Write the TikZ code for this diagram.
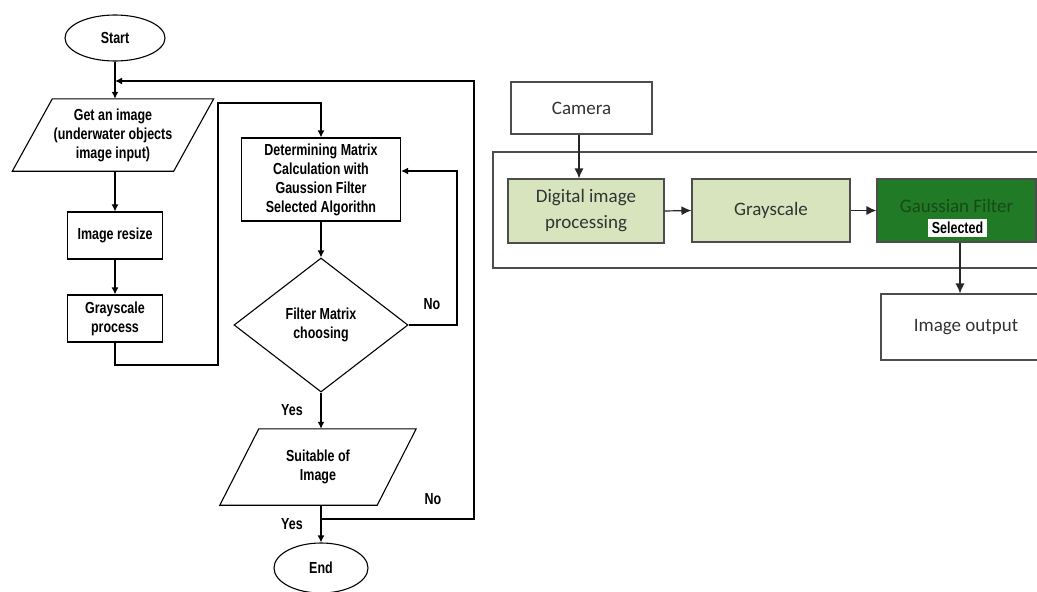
\documentclass[tikz,border=0pt]{standalone}
\usepackage{fontspec}
\setmainfont{Liberation Sans}
\newfontfamily\flowfont[FakeStretch=0.78]{Liberation Sans}
\newfontfamily\boxfont{Carlito}
\usetikzlibrary{shapes.geometric,arrows.meta}
\definecolor{lightolive}{HTML}{D7E4BD}
\definecolor{darkgreen}{HTML}{217A25}
\definecolor{gftext}{HTML}{174A17}
\definecolor{edgegray}{HTML}{4D4D4D}
\begin{document}
\begin{tikzpicture}[x=1pt,y=-1pt,
  fl/.style={font=\flowfont\bfseries\fontsize{16}{19}\selectfont, align=center, inner sep=0pt},
  flbox/.style={fl, draw=black, line width=1.1pt},
  flarr/.style={line width=2.2pt, -{Latex[length=7pt,width=7pt]}},
  lbl/.style={font=\flowfont\bfseries\fontsize{16}{19}\selectfont, inner sep=0pt},
  rb/.style={draw=edgegray, line width=1.1pt, font=\boxfont\fontsize{19}{26}\selectfont, text=black!80, align=center, inner sep=0pt},
  rarr/.style={line width=1.2pt, draw=black!85, -{Latex[length=10pt,width=9pt]}}
]
\clip (0,0) rectangle (1037,592);
\fill[white] (0,0) rectangle (1037,592);

% ---------- left flowchart ----------
\node[flbox, ellipse, minimum width=100pt, minimum height=46pt] (start) at (115,38) {Start};
\node[fl, minimum width=161pt, minimum height=72pt] (get) at (113,135) {Get an image\\(underwater objects\\image input)};
\draw[line width=1.1pt] ([xshift=20pt]get.north west) -- ([xshift=20pt]get.north east) -- ([xshift=-20pt]get.south east) -- ([xshift=-20pt]get.south west) -- cycle;
\node[flbox, minimum width=95pt, minimum height=47pt] (resize) at (115,235.5) {Image resize};
\node[flbox, minimum width=95pt, minimum height=47pt] (gray) at (115,318.5) {Grayscale\\process};
\node[flbox, minimum width=159pt, minimum height=83pt] (det) at (321,179.5) {Determining Matrix\\Calculation with\\Gaussion Filter\\Selected Algorithn};
\node[flbox, diamond, minimum width=174pt, minimum height=134pt] (dia) at (321,325) {Filter Matrix\\choosing};
\node[fl, minimum width=157pt, minimum height=76pt] (suit) at (318,467) {Suitable of\\Image};
\draw[line width=1.1pt] ([xshift=19.5pt]suit.north west) -- ([xshift=19.5pt]suit.north east) -- ([xshift=-19.5pt]suit.south east) -- ([xshift=-19.5pt]suit.south west) -- cycle;
\node[flbox, ellipse, minimum width=94pt, minimum height=50pt] (end) at (321,568) {End};

\coordinate (top) at (115,81);
\coordinate (junc) at (321,519);
\coordinate (nin) at (det.east |- 0,171);

\draw[flarr] (start.south) -- (get.north -| start.south);
\draw[flarr] (get.south -| resize.north) -- (resize.north);
\draw[flarr] (resize.south) -- (gray.north);
\draw[flarr] (gray.south) |- (218,365) -- (218,103) -| (det.north);
\draw[flarr] (det.south) -- (dia.north);
\draw[flarr] (dia.east) -| (457,171) -- (nin);
\draw[flarr] (dia.south) -- (dia.south |- suit.north);
\draw[flarr] (suit.south -| end.north) -- (end.north);
\draw[flarr] (junc) -- (474,519) -- (474,81) -- (top);

\node[lbl] (no1) at (432,304) {No};
\node[lbl] (yes1) at (292,410) {Yes};
\node[lbl] (no2) at (433,499) {No};
\node[lbl] (yes2) at (292,524) {Yes};

% ---------- right block diagram ----------
\node[rb, minimum width=141pt, minimum height=52pt] (camera) at (581.5,108) {Camera};
\draw[edgegray, line width=1.1pt] (493,152) rectangle (1060,268);
\node[rb, fill=lightolive, minimum width=156pt, minimum height=64pt] (dig) at (586,211) {Digital image\\processing};
\node[rb, fill=lightolive, minimum width=158pt, minimum height=63pt] (gs) at (771,210.5) {Grayscale};
\node[rb, fill=darkgreen, text=gftext, minimum width=159pt, minimum height=63pt, text depth=10pt] (gf) at (956.5,210.5) {Gaussian Filter};
\node[fill=white, font=\flowfont\bfseries\fontsize{16}{17}\selectfont, inner sep=1.5pt, minimum width=59pt, minimum height=18pt] (sel) at (957.5,228) {Selected};
\node[rb, minimum width=170pt, minimum height=66pt] (out) at (966,327) {Image output};

\draw[rarr] (camera.south -| 579,0) -- (dig.north -| 579,0);
\draw[rarr] (dig.east) -- (gs.west);
\draw[rarr] (gs.east) -- (gf.west);
\draw[rarr] (gf.south -| 960,0) -- (out.north -| 960,0);
\end{tikzpicture}
\end{document}
